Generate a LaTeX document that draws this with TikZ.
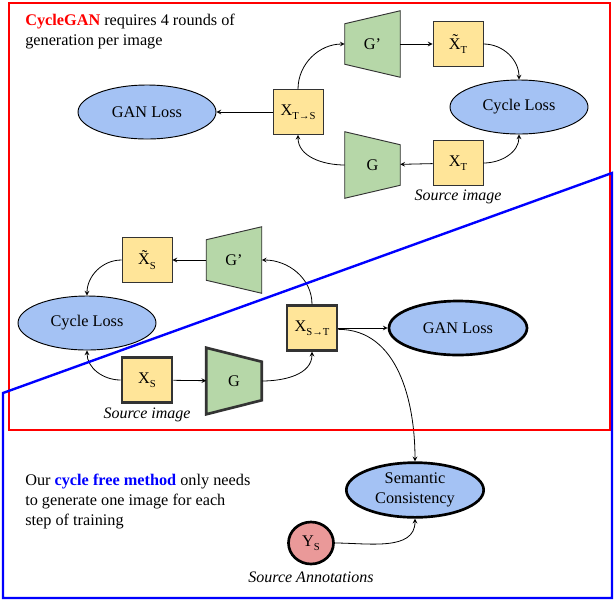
\documentclass[tikz,border=0pt]{standalone}
\usepackage{fontspec}
\setmainfont{Liberation Serif}
\usetikzlibrary{shapes.geometric,backgrounds,positioning}

\definecolor{imgyellow}{HTML}{FFE599}
\definecolor{genGreen}{HTML}{B6D7A8}
\definecolor{lossBlue}{HTML}{A4C2F4}
\definecolor{annoRed}{HTML}{EA9999}
\definecolor{edgegray}{HTML}{333333}

\newcommand{\lowsub}[1]{\raisebox{-0.55ex}{\footnotesize #1}}

\tikzstyle{imgbox} = [rectangle, minimum width=37.5pt, minimum height=33.5pt, inner sep=0pt, draw=edgegray, fill=imgyellow, line width=0.7pt]
\tikzstyle{loss} = [ellipse, minimum width=103.5pt, minimum height=40.5pt, inner sep=0pt, draw=black, fill=lossBlue, line width=0.7pt]
\tikzstyle{gen} = [rectangle, minimum width=41.25pt, minimum height=49.5pt, inner sep=0pt]
\tikzstyle{genbody} = [fill=genGreen, draw=edgegray, line width=0.7pt]
\tikzstyle{heavy} = [line width=2pt]
\tikzstyle{flow} = [->, >=stealth, line width=0.6pt]
\tikzstyle{caption} = [font=\fontsize{12}{14.5}\selectfont\itshape, inner sep=0pt]

\begin{document}
\begin{tikzpicture}[x=0.75pt, y=-0.75pt, font=\fontsize{12.2}{14.8}\selectfont]
      \useasboundingbox (0,0) rectangle (614,601);

      % CycleGAN part
      \node (cgtext) [anchor=north west, align=left, inner sep=0pt] at (25,14)
        {\textcolor{red}{\textbf{CycleGAN}} requires 4 rounds of\\generation per image};
      \node (gan1) [loss] at (147,112) {GAN Loss};
      \node (xts) [imgbox, minimum width=37.5pt] at (298,112) {X\lowsub{T→S}};
      \node (gp1) [gen] at (372.5,44) {G’};
      \node (xtt) [imgbox] at (458,44) {\~{X}\lowsub{T}};
      \node (cl1) [loss] at (519,107) {Cycle Loss};
      \node (g1) [gen] at (372.5,165) {G};
      \node (xt) [imgbox] at (458,163) {X\lowsub{T}};
      \node (src1) [caption, below=3pt of xt] {Source image};

      % cycle free part
      \node (xts2) [imgbox] at (147,260) {\~{X}\lowsub{S}};
      \node (gp2) [gen] at (234,260) {G’};
      \node (cl2) [loss] at (87,323) {Cycle Loss};
      \node (xs) [imgbox, heavy] at (147,380) {X\lowsub{S}};
      \node (g2) [gen] at (234,381) {G};
      \node (src2) [caption, below=3pt of xs] {Source image};
      \node (xst) [imgbox, heavy] at (312,328) {X\lowsub{S→T}};
      \node (gan2) [loss, heavy] at (458,328) {GAN Loss};
      \node (sem) [loss, heavy, minimum width=103pt, minimum height=41pt, align=center] at (415,490) {Semantic\\Consistency};
      \node (ys) [ellipse, heavy, draw=black, fill=annoRed, minimum width=33.75pt, minimum height=31.5pt, inner sep=0pt] at (311,543) {Y\lowsub{S}};
      \node (src3) [caption, below=5pt of ys] {Source Annotations};
      \node (cftext) [anchor=north west, align=left, inner sep=0pt] at (25,474)
        {Our \textcolor{blue}{\textbf{cycle free method}} only needs\\to generate one image for each\\step of training};

      \begin{scope}[on background layer]
        \draw [genbody] ([yshift=-9.75pt]gp1.north west) -- (gp1.north east) -- (gp1.south east) -- ([yshift=9.75pt]gp1.south west) -- cycle;
        \draw [genbody] (g1.north west) -- ([yshift=-9.75pt]g1.north east) -- ([yshift=9.75pt]g1.south east) -- (g1.south west) -- cycle;
        \draw [genbody] ([yshift=-9.75pt]gp2.north west) -- (gp2.north east) -- (gp2.south east) -- ([yshift=9.75pt]gp2.south west) -- cycle;
        \draw [genbody, heavy] (g2.north west) -- ([yshift=-10.5pt]g2.north east) -- ([yshift=10.5pt]g2.south east) -- (g2.south west) -- cycle;
      \end{scope}

      \draw [flow] (xts) -- (gan1);
      \draw [flow] (xts.north) to[out=90, in=180] (gp1.west);
      \draw [flow] (gp1) -- (xtt);
      \draw [flow] (xtt.east) to[out=0, in=90] (cl1.north);
      \draw [flow] (xt.east) to[out=0, in=270] (cl1.south);
      \draw [flow] (xt) -- (g1);
      \draw [flow] (g1.west) to[out=180, in=270] (xts.south);

      \draw [flow] (xs) -- (g2);
      \draw [flow] (g2.east) to[out=0, in=270] (xst.south);
      \draw [flow] (xst.north) to[out=90, in=0] (gp2.east);
      \draw [flow] (gp2) -- (xts2);
      \draw [flow] (xts2.west) to[out=180, in=90] (cl2.north);
      \draw [flow] (xs.west) to[out=180, in=270] (cl2.south);
      \draw [flow] (xst) -- (gan2);
      \draw [flow] ([yshift=-1pt]xst.east) to[out=0, in=90] (sem.north);
      \draw [flow] (ys.east) to[out=0, in=270] (sem.south);

      % frames
      \draw [red, line width=1.5pt] (9,3) rectangle (610,430);
      \draw [blue, line width=1.8pt] (3,598) -- (3,393) -- (612,173) -- (612,598) -- cycle;
    \end{tikzpicture}
\end{document}
